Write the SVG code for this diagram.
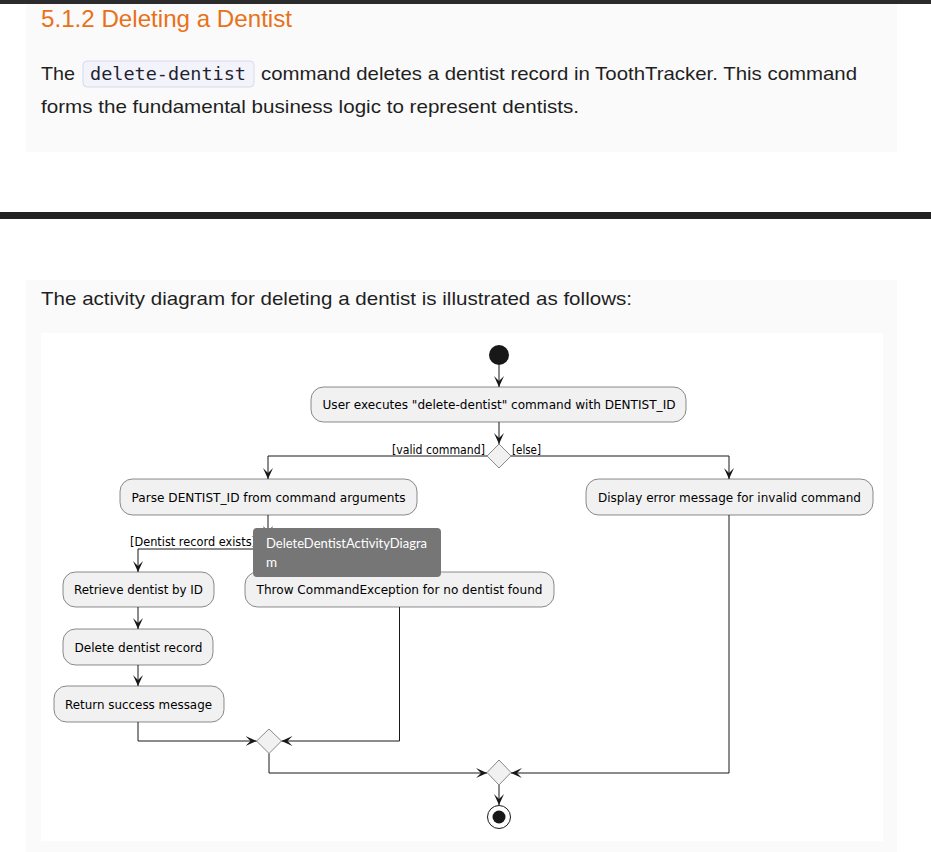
<svg xmlns="http://www.w3.org/2000/svg" width="931" height="852" viewBox="0 0 931 852">
<style>
.page{font-family:"Liberation Sans",Arial,sans-serif;fill:#1f1f1f}
.act rect{fill:#F1F1F1;stroke:#181818;stroke-width:0.5}
.act text,.lbl{font-family:"DejaVu Sans",Verdana,sans-serif;font-size:11.5px;fill:#000}
.act text{text-anchor:middle}
.dia{fill:#F1F1F1;stroke:#181818;stroke-width:0.5}
.con path{fill:none;stroke:#181818;stroke-width:1}
</style>
<defs>
<marker id="ah" viewBox="-11 -6 11 12" refX="0" refY="0" markerWidth="11" markerHeight="12" markerUnits="userSpaceOnUse" orient="auto">
<path d="M0,0 L-11,-5 L-6,0 L-11,5 Z" fill="#181818"/>
</marker>
</defs>
<rect width="931" height="852" fill="#ffffff"/>
<rect x="0" y="0" width="931" height="4" fill="#2b2b2b"/>
<rect x="26" y="4" width="871" height="148" fill="#fafafa"/>
<text x="41" y="27" font-family="Liberation Sans,Arial,sans-serif" font-size="24" fill="#e8711a" textLength="251" lengthAdjust="spacingAndGlyphs">5.1.2 Deleting a Dentist</text>
<text class="page" x="41" y="80" font-size="19" textLength="34" lengthAdjust="spacingAndGlyphs">The</text>
<rect x="83" y="61" width="171" height="26" rx="4" fill="#f3f3fb" stroke="#d9d9ec" stroke-width="1"/>
<text x="90" y="80" font-family="DejaVu Sans Mono,monospace" font-size="18" fill="#1f1f2f" textLength="156" lengthAdjust="spacingAndGlyphs">delete-dentist</text>
<text class="page" x="261" y="80" font-size="19" textLength="596" lengthAdjust="spacingAndGlyphs">command deletes a dentist record in ToothTracker. This command</text>
<text class="page" x="41" y="113" font-size="19" textLength="538" lengthAdjust="spacingAndGlyphs">forms the fundamental business logic to represent dentists.</text>
<rect x="0" y="212" width="931" height="7" fill="#222222"/>
<rect x="26" y="280" width="871" height="572" fill="#fafafa"/>
<text class="page" x="41" y="305" font-size="19" textLength="591" lengthAdjust="spacingAndGlyphs">The activity diagram for deleting a dentist is illustrated as follows:</text>
<rect x="41" y="333" width="842" height="508" fill="#ffffff"/>

<g id="connectors" class="con">
<path d="M499,365 V387" marker-end="url(#ah)"/>
<path d="M499,422 V444" marker-end="url(#ah)"/>
<path d="M487,456 H268 V479" marker-end="url(#ah)"/>
<path d="M511,456 H729 V479" marker-end="url(#ah)"/>
<path d="M268,515 V537" marker-end="url(#ah)"/>
<path d="M256,549 H138 V572" marker-end="url(#ah)"/>
<path d="M280,549 H399.5 V572" marker-end="url(#ah)"/>
<path d="M138,607 V629" marker-end="url(#ah)"/>
<path d="M138,665 V686" marker-end="url(#ah)"/>
<path d="M138,722 V741 H256.5" marker-end="url(#ah)"/>
<path d="M399.5,607 V741 H281.5" marker-end="url(#ah)"/>
<path d="M269,753.5 V773 H487" marker-end="url(#ah)"/>
<path d="M729,515 V773 H511" marker-end="url(#ah)"/>
<path d="M499,785 V805" marker-end="url(#ah)"/>
</g>
<text class="lbl" x="485" y="454" text-anchor="end" textLength="93" lengthAdjust="spacingAndGlyphs">[valid command]</text>
<text class="lbl" x="512" y="454" textLength="29" lengthAdjust="spacingAndGlyphs">[else]</text>
<text class="lbl" x="130" y="546" textLength="126" lengthAdjust="spacingAndGlyphs">[Dentist record exists]</text>

<g id="start"><circle cx="499" cy="355" r="10" fill="#181818"/></g>
<g id="user-executes" class="act">
<rect x="311" y="387" width="375" height="35" rx="12.5"/>
<text x="499" y="409" textLength="353" lengthAdjust="spacingAndGlyphs">User executes "delete-dentist" command with DENTIST_ID</text>
</g>
<g id="valid-decision"><polygon class="dia" points="499,444 511,456 499,468 487,456"/></g>
<g id="parse" class="act">
<rect x="120" y="479" width="297" height="36" rx="12.5"/>
<text x="268.5" y="502" textLength="274" lengthAdjust="spacingAndGlyphs">Parse DENTIST_ID from command arguments</text>
</g>
<g id="display-error" class="act">
<rect x="586" y="479" width="287" height="36" rx="12.5"/>
<text x="729.5" y="502" textLength="263" lengthAdjust="spacingAndGlyphs">Display error message for invalid command</text>
</g>
<g id="exists-decision"><polygon class="dia" points="268,537 280,549 268,561 256,549"/></g>
<g id="retrieve" class="act">
<rect x="63" y="572" width="151" height="35" rx="12.5"/>
<text x="138.5" y="594" textLength="129" lengthAdjust="spacingAndGlyphs">Retrieve dentist by ID</text>
</g>
<g id="throw" class="act">
<rect x="245" y="572" width="309" height="35" rx="12.5"/>
<text x="399.5" y="594" textLength="286" lengthAdjust="spacingAndGlyphs">Throw CommandException for no dentist found</text>
</g>
<g id="delete-record" class="act">
<rect x="63" y="629" width="150" height="36" rx="12.5"/>
<text x="138.5" y="652" textLength="128" lengthAdjust="spacingAndGlyphs">Delete dentist record</text>
</g>
<g id="return-success" class="act">
<rect x="54" y="686" width="170" height="36" rx="12.5"/>
<text x="138.5" y="709" textLength="147" lengthAdjust="spacingAndGlyphs">Return success message</text>
</g>
<g id="merge-inner"><polygon class="dia" points="269,729 281.5,741 269,753.5 256.5,741"/></g>
<g id="merge-outer"><polygon class="dia" points="499,760 511,772.5 499,785 487,772.5"/></g>
<g id="end">
<circle cx="499" cy="817" r="11.5" fill="#ffffff" stroke="#181818" stroke-width="1"/>
<circle cx="499" cy="817" r="6.5" fill="#181818"/>
</g>
<g id="tooltip">
<rect x="253" y="528" width="188" height="49" rx="4" fill="#767676"/>
<text x="266" y="548" font-family="Lato,'Noto Sans',sans-serif" font-size="13.5" fill="#ffffff" textLength="161" lengthAdjust="spacingAndGlyphs">DeleteDentistActivityDiagra</text>
<text x="266" y="567" font-family="Lato,'Noto Sans',sans-serif" font-size="13.5" fill="#ffffff">m</text>
</g>
</svg>
